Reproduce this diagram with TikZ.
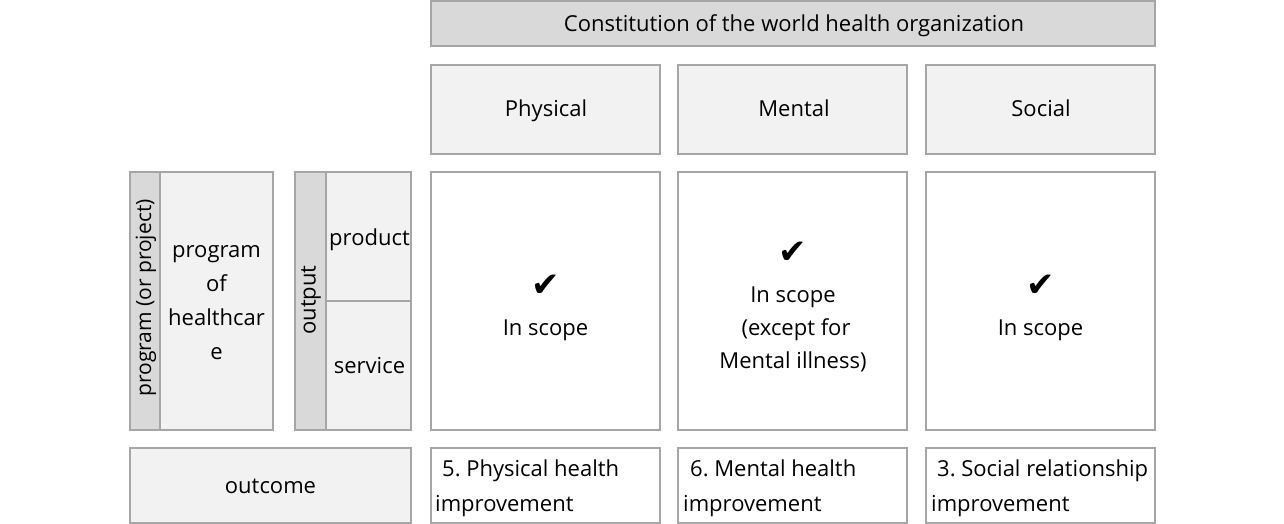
\documentclass[tikz,border=0pt]{standalone}
\usepackage{fontspec}
\setmainfont{Open Sans}
\newfontfamily\symfont{DejaVu Sans}
\definecolor{bordergray}{HTML}{A6A6A6}
\definecolor{lightfill}{HTML}{F2F2F2}
\definecolor{darkfill}{HTML}{D9D9D9}
\newcommand{\chk}{{\symfont\fontsize{34}{36}\selectfont ✔}}
\frenchspacing
\begin{document}
\begin{tikzpicture}[x=1pt,y=-1pt,
  cell/.style={draw=bordergray, line width=1.6pt, rectangle, inner sep=0pt},
  lightcell/.style={cell, fill=lightfill},
  darkcell/.style={cell, fill=darkfill},
  whitecell/.style={cell, fill=white},
  txt/.style={inner sep=0pt, anchor=base, font=\fontsize{22}{34}\selectfont, text=black},
  ltxt/.style={txt, anchor=base west},
  chkmark/.style={inner sep=0pt, anchor=base, text=black}]
\useasboundingbox (0,0) rectangle (1284,524);
% header
\node[darkcell, minimum width=724, minimum height=45] (hdr) at (793,23.5) {};
\node[txt] (hdrt) at (794,32) {Constitution of the world health organization};
% column headers
\node[lightcell, minimum width=229, minimum height=89] (phys) at (545.5,109.5) {};
\node[lightcell, minimum width=229, minimum height=89] (ment) at (792.5,109.5) {};
\node[lightcell, minimum width=229, minimum height=89] (soc) at (1040.5,109.5) {};
\node[txt] (physt) at (546,117) {Physical};
\node[txt] (mentt) at (794,117) {Mental};
\node[txt] (soct) at (1041,117) {Social};
% scope cells
\node[whitecell, minimum width=229, minimum height=258] (physin) at (545.5,301) {};
\node[whitecell, minimum width=229, minimum height=258] (mentin) at (792.5,301) {};
\node[whitecell, minimum width=229, minimum height=258] (socin) at (1040.5,301) {};
\node[chkmark] (physc) at (545.5,296) {\chk};
\node[txt] (physs) at (545.5,335) {In scope};
\node[chkmark] (mentc) at (793,263) {\chk};
\node[txt] (ments1) at (793,302) {In scope};
\node[txt] (ments2) at (796,335) {(except for};
\node[txt] (ments3) at (793,368) {Mental illness)};
\node[chkmark] (socc) at (1040.5,296) {\chk};
\node[txt] (socs) at (1040.5,335) {In scope};
% left part
\node[darkcell, minimum width=30, minimum height=258] (prstrip) at (145,301) {};
\node[rotate=90, inner sep=0pt, font=\fontsize{21}{34}\selectfont] (prlabel) at (146,298) {program (or project)};
\node[lightcell, minimum width=113, minimum height=258] (prog) at (216.5,301) {};
\node[txt] (prog1) at (216.5,257) {program};
\node[txt] (prog2) at (216.5,291) {of};
\node[txt] (prog3) at (216.5,325) {healthcar};
\node[txt] (prog4) at (216.5,359) {e};
\node[darkcell, minimum width=31, minimum height=258] (outstrip) at (310.5,301) {};
\node[rotate=90, inner sep=0pt, font=\fontsize{22}{34}\selectfont] (outlabel) at (311,300) {output};
\node[lightcell, minimum width=85, minimum height=129] (prod) at (368.5,236.5) {};
\node[lightcell, minimum width=85, minimum height=129] (serv) at (368.5,365.5) {};
\node[txt] (prodt) at (369.5,245) {product};
\node[txt] (servt) at (369.5,373) {service};
% bottom row
\node[lightcell, minimum width=281, minimum height=75] (outc) at (270.5,485.5) {};
\node[txt] (outct) at (270.5,493) {outcome};
\node[whitecell, minimum width=229, minimum height=75] (physout) at (545.5,485.5) {};
\node[whitecell, minimum width=229, minimum height=75] (mentout) at (792.5,485.5) {};
\node[whitecell, minimum width=229, minimum height=75] (socout) at (1040.5,485.5) {};
\node[ltxt] (physo1) at (442,476) {5. Physical health};
\node[ltxt] (physo2) at (435,511) {improvement};
\node[ltxt] (mento1) at (690,476) {6. Mental health};
\node[ltxt] (mento2) at (683,511) {improvement};
\node[ltxt] (soco1) at (937,476) {3. Social relationship};
\node[ltxt] (soco2) at (931,511) {improvement};
\end{tikzpicture}
\end{document}
